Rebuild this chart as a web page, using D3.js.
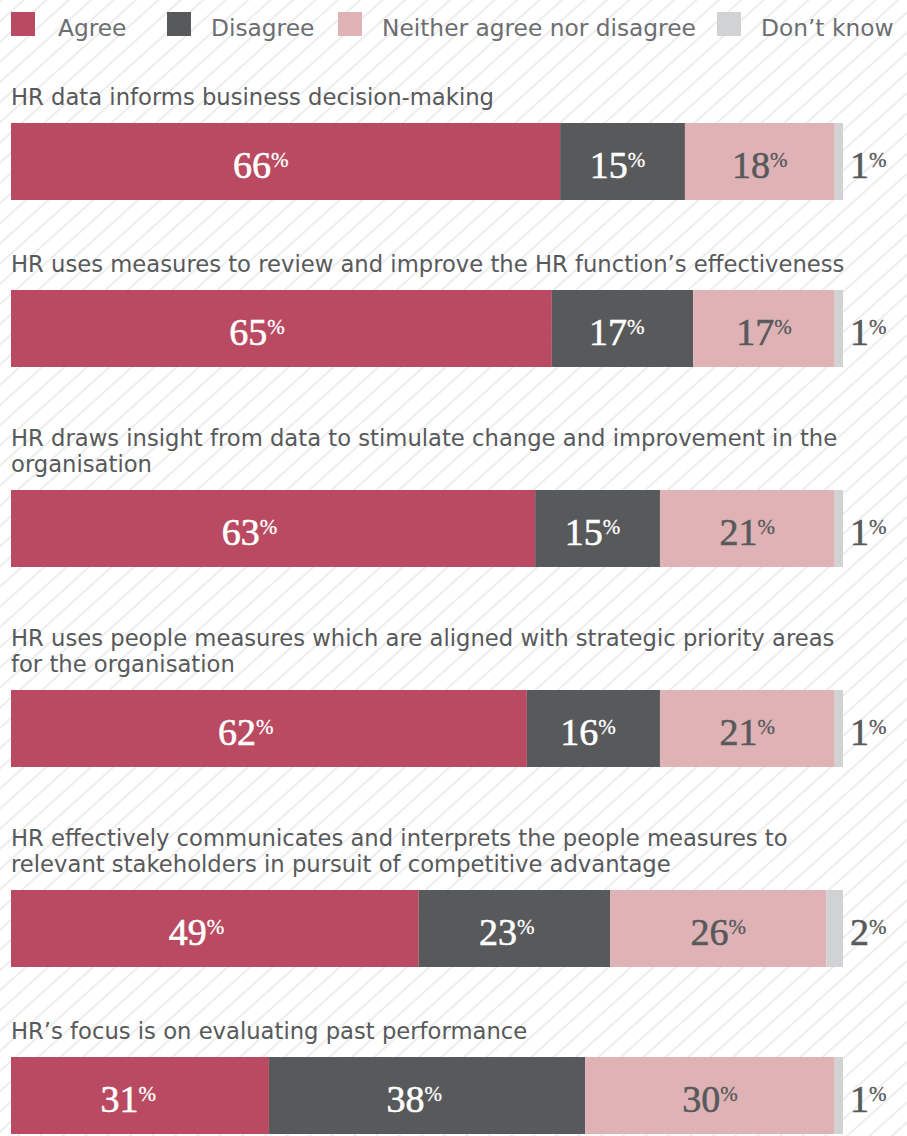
<!DOCTYPE html>
<html>
<head>
    <meta charset="utf-8">
    <title>HR data statements</title>
    <style>
        body {
            margin: 0;
            background: #ffffff;
        }

        svg {
            display: block;
        }

        .legend-text {
            font-family: "DejaVu Sans", sans-serif;
            font-size: 23.3px;
            fill: #6d6e71;
        }

        .title {
            font-family: "DejaVu Sans", sans-serif;
            font-size: 22.7px;
            fill: #58595b;
        }

        .value {
            font-family: "Liberation Serif", "Times New Roman", serif;
            font-size: 38px;
            stroke-width: 0.6px;
        }
    </style>
    <script src="https://d3js.org/d3.v7.min.js"></script>
</head>
<body>
<div id="chart"></div>
<script>
    // statements shown above each bar
    const statements = [
        "HR data informs business decision-making",
        "HR uses measures to review and improve the HR function\u2019s effectiveness",
        "HR draws insight from data to stimulate change and improvement in the organisation",
        "HR uses people measures which are aligned with strategic priority areas for the organisation",
        "HR effectively communicates and interprets the people measures to relevant stakeholders in pursuit of competitive advantage",
        "HR\u2019s focus is on evaluating past performance"
    ];

    // answers, in %
    const agree = [66, 65, 63, 62, 49, 31];
    const disagree = [15, 17, 15, 16, 23, 38];
    const neither = [18, 17, 21, 21, 26, 30];
    const dontKnow = [1, 1, 1, 1, 2, 1];

    const keys = ["agree", "disagree", "neither", "dontKnow"];
    const legendLabels = ["Agree", "Disagree", "Neither agree nor disagree", "Don\u2019t know"];
    const colors = ["#b94a61", "#58595b", "#dfb3b6", "#d1d2d4"];
    const textColors = ["#ffffff", "#ffffff", "#58595b", "#58595b"];
    // where the label sits inside its segment (share of segment width)
    const labelPos = [0.455, 0.46, 0.5, 0.5];

    const width = 907, height = 1136;
    const left = 11, right = 843;
    const barH = 77, lineH = 26, titleGap = 18;
    const rowGap = 57, lineStep = 33; // vertical room per row / per title line
    const firstBarTop = 123;

    const rows = statements.map((s, i) => ({
        statement: s,
        agree: agree[i],
        disagree: disagree[i],
        neither: neither[i],
        dontKnow: dontKnow[i]
    }));

    const svg = d3.select("#chart").append("svg")
        .attr("width", width)
        .attr("height", height);

    // diagonal hatch background
    const defs = svg.append("defs");
    defs.append("pattern")
        .attr("id", "hatch")
        .attr("patternUnits", "userSpaceOnUse")
        .attr("width", 15)
        .attr("height", 15)
        .attr("patternTransform", "rotate(48)")
        .append("line")
        .attr("x1", 1).attr("y1", 0)
        .attr("x2", 1).attr("y2", 15)
        .attr("stroke", "#e9e9e9")
        .attr("stroke-width", 1.6);

    svg.append("rect")
        .attr("width", width)
        .attr("height", height)
        .attr("fill", "#ffffff");
    svg.append("rect")
        .attr("width", width)
        .attr("height", height)
        .attr("fill", "url(#hatch)");

    const x = d3.scaleLinear().domain([0, 100]).range([left, right]);
    const color = d3.scaleOrdinal().domain(keys).range(colors);

    // legend
    const legendX = [11, 167, 338, 717];
    const legend = svg.append("g")
        .selectAll("g")
        .data(keys)
        .join("g")
        .attr("transform", (d, i) => `translate(${legendX[i]}, 12)`);

    legend.append("rect")
        .attr("width", 24)
        .attr("height", 24)
        .attr("fill", d => color(d));

    legend.append("text")
        .attr("class", "legend-text")
        .attr("x", (d, i) => i === 0 ? 47 : 44)
        .attr("y", 24)
        .text((d, i) => legendLabels[i]);

    // wrap a statement into lines
    const measure = svg.append("text").attr("class", "title").attr("visibility", "hidden");
    function wrap(str, maxW) {
        const words = str.split(" ");
        const lines = [];
        let cur = "";
        words.forEach(w => {
            const test = cur ? cur + " " + w : w;
            measure.text(test);
            if (measure.node().getComputedTextLength() > maxW && cur) {
                lines.push(cur);
                cur = w;
            } else {
                cur = test;
            }
        });
        lines.push(cur);
        return lines;
    }

    // layout rows top to bottom
    let barTop = firstBarTop;
    rows.forEach((r, i) => {
        r.lines = wrap(r.statement, 855);
        if (i > 0) {
            barTop += barH + rowGap + r.lines.length * lineStep;
        }
        r.top = barTop;
    });
    measure.remove();

    const series = d3.stack().keys(keys)(rows);

    const row = svg.append("g")
        .selectAll("g")
        .data(rows)
        .join("g")
        .attr("transform", d => `translate(0, ${d.top})`);

    row.append("text")
        .attr("class", "title")
        .selectAll("tspan")
        .data(d => d.lines.map((l, j) => ({l, j, n: d.lines.length})))
        .join("tspan")
        .attr("x", left)
        .attr("y", d => -titleGap - (d.n - 1 - d.j) * lineH)
        .text(d => d.l);

    // segments
    series.forEach((s, k) => {
        row.append("rect")
            .attr("x", (d, i) => x(s[i][0]))
            .attr("y", 0)
            .attr("width", (d, i) => x(s[i][1]) - x(s[i][0]))
            .attr("height", barH)
            .attr("fill", colors[k]);
    });

    // value labels
    series.forEach((s, k) => {
        const lab = row.append("text")
            .attr("class", "value")
            .attr("fill", textColors[k])
            .attr("stroke", textColors[k])
            .attr("y", barH / 2 + 16)
            .attr("x", (d, i) => {
                if (k === 3) return x(s[i][1]) + 7;
                return x(s[i][0]) + (x(s[i][1]) - x(s[i][0])) * labelPos[k];
            })
            .attr("text-anchor", k === 3 ? "start" : "middle");

        lab.append("tspan")
            .text((d, i) => s[i].data[keys[k]]);
        lab.append("tspan")
            .attr("dy", -11)
            .style("font-size", "21px")
            .style("stroke-width", "0.3px")
            .text("%");
    });
</script>
</body>
</html>
